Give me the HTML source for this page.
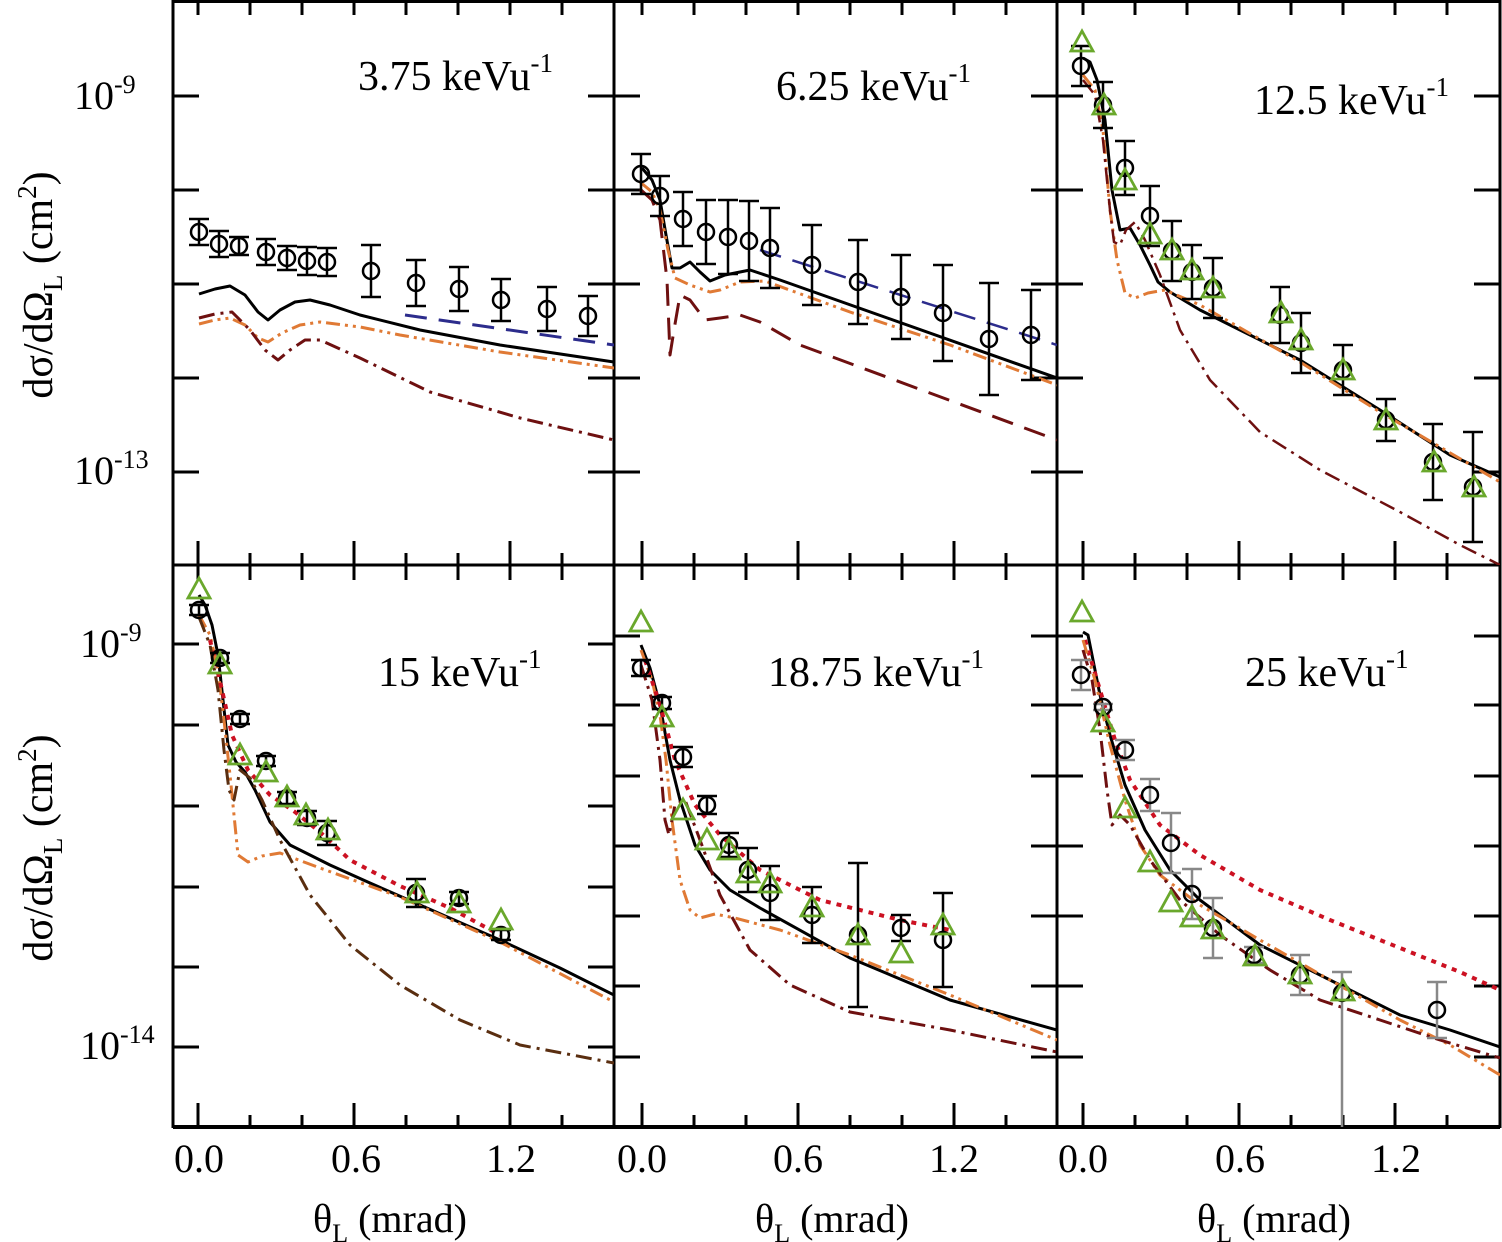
<!DOCTYPE html>
<html><head><meta charset="utf-8"><style>
html,body{margin:0;padding:0;background:#fff;}
svg{display:block;}
text{font-family:"Liberation Serif",serif;fill:#000;}
</style></head><body>
<svg id="s" width="1502" height="1242" viewBox="0 0 1502 1242" xmlns="http://www.w3.org/2000/svg">
<g id="g"></g>
<text x="74" y="109" font-size="40">10<tspan dy="-16" font-size="26">-9</tspan></text>
<text x="74" y="484" font-size="40">10<tspan dy="-16" font-size="26">-13</tspan></text>
<text x="80" y="657" font-size="40">10<tspan dy="-16" font-size="26">-9</tspan></text>
<text x="80" y="1059" font-size="40">10<tspan dy="-16" font-size="26">-14</tspan></text>
<text transform="translate(52,285) rotate(-90)" text-anchor="middle" font-size="42">dσ/dΩ<tspan dy="10" font-size="27">L</tspan><tspan dy="-10">  (cm</tspan><tspan dy="-16" font-size="27">2</tspan><tspan dy="16">)</tspan></text>
<text transform="translate(52,848) rotate(-90)" text-anchor="middle" font-size="42">dσ/dΩ<tspan dy="10" font-size="27">L</tspan><tspan dy="-10">  (cm</tspan><tspan dy="-16" font-size="27">2</tspan><tspan dy="16">)</tspan></text>
<g font-size="42">
<text x="358" y="90">3.75 keVu<tspan dy="-18" font-size="27">-1</tspan></text>
<text x="776" y="100">6.25 keVu<tspan dy="-18" font-size="27">-1</tspan></text>
<text x="1254" y="114">12.5 keVu<tspan dy="-18" font-size="27">-1</tspan></text>
<text x="378" y="686">15 keVu<tspan dy="-18" font-size="27">-1</tspan></text>
<text x="768" y="686">18.75 keVu<tspan dy="-18" font-size="27">-1</tspan></text>
<text x="1245" y="686">25 keVu<tspan dy="-18" font-size="27">-1</tspan></text>
</g>
<g font-size="40" text-anchor="middle">
<text x="199" y="1172">0.0</text><text x="356" y="1172">0.6</text><text x="511" y="1172">1.2</text>
<text x="642" y="1172">0.0</text><text x="798" y="1172">0.6</text><text x="954" y="1172">1.2</text>
<text x="1083" y="1172">0.0</text><text x="1240" y="1172">0.6</text><text x="1396" y="1172">1.2</text>
</g>
<g font-size="40" text-anchor="middle">
<text x="390" y="1232">θ<tspan dy="10" font-size="26">L</tspan><tspan dy="-10"> (mrad)</tspan></text>
<text x="832" y="1232">θ<tspan dy="10" font-size="26">L</tspan><tspan dy="-10"> (mrad)</tspan></text>
<text x="1274" y="1232">θ<tspan dy="10" font-size="26">L</tspan><tspan dy="-10"> (mrad)</tspan></text>
</g>
</svg>
<script>
(function(){
var g=document.getElementById('g'),NS='http://www.w3.org/2000/svg';
function el(t,a){var e=document.createElementNS(NS,t);for(var k in a)e.setAttribute(k,a[k]);g.appendChild(e);return e;}
function L(x1,y1,x2,y2,c,w){el('line',{x1:x1,y1:y1,x2:x2,y2:y2,stroke:c||'#000','stroke-width':w||3});}
function P(pts,c,w,d,clip){var s=pts.map(function(p){return p[0]+','+p[1]}).join(' ');var a={points:s,fill:'none',stroke:c,'stroke-width':w,'stroke-linejoin':'round','stroke-linecap':'butt'};if(d)a['stroke-dasharray']=d;if(clip)a['clip-path']='url(#'+clip+')';el('polyline',a);}
var defs=el('defs',{});
[['c1',173,0,441,565],['c2',614,0,443,565],['c3',1057,0,443,565],['c4',173,565,441,562],['c5',614,565,443,562],['c6',1057,565,443,562]].forEach(function(c){var cp=document.createElementNS(NS,'clipPath');cp.setAttribute('id',c[0]);var r=document.createElementNS(NS,'rect');r.setAttribute('x',c[1]);r.setAttribute('y',c[2]);r.setAttribute('width',c[3]);r.setAttribute('height',c[4]);cp.appendChild(r);defs.appendChild(cp);});
[173,614,1057,1500].forEach(function(x){L(x,0,x,1128,'#000',3);});
L(173,1.5,1500,1.5);L(173,565,1500,565);L(173,1127,1500,1127,'#000',4);
var cols=[[198,173,614],[642,614,1057],[1083,1057,1500]];
cols.forEach(function(c){for(var k=0;k<9;k++){var x=c[0]+k*52;if(x>=c[2]-2)break;var maj=k%3==0;
 L(x,565,x,565-(maj?24:12));L(x,1127,x,1127-(maj?24:12));
 L(x,0,x,15);L(x,565,x,580);}});
function yt(xl,xr,ys){ys.forEach(function(y){L(xl,y,xl+26,y);L(xr,y,xr-26,y);});}
var topY=[96,190,284,378,472];
yt(173,614,topY);yt(614,1057,topY);yt(1057,1500,topY);
yt(173,614,[644,725,806,887,967,1047]);
yt(614,1057,[636,705,776,846,916,986,1057]);
yt(1057,1500,[636,705,776,846,916,986,1057]);
var K='#000',OR='#e07a35',DR='#6e1010',BL='#2c2c8c',RD='#cc1122',GR='#6aa82c',BR='#5a2e10';
var DD='14,5,3,5,3,5',DA='16,6,3,6',DS='22,12',DT='5,6';
function circ(x,y,e,col){if(e){L(x,y-e,x,y+e,col||'#000',2.5);L(x-10,y-e,x+10,y-e,col||'#000',2.5);L(x-10,y+e,x+10,y+e,col||'#000',2.5);}
 el('circle',{cx:x,cy:y,r:8,fill:'none',stroke:'#000','stroke-width':2.5});}
function tri(x,y){el('polygon',{points:(x-11)+','+(y+9)+' '+(x+11)+','+(y+9)+' '+x+','+(y-11),fill:'none',stroke:GR,'stroke-width':2.8});}
P([[199,294],[215,289],[230,286],[245,295],[258,312],[268,320],[280,310],[295,302],[310,300],[330,305],[360,315],[420,330],[500,345],[614,362]],K,3,null,'c1');
P([[405,315],[614,345]],BL,3,DS,'c1');
P([[199,324],[215,320],[230,318],[245,325],[258,338],[268,342],[282,333],[300,325],[320,322],[360,327],[400,335],[500,352],[614,368]],OR,3,DD,'c1');
P([[199,318],[215,314],[232,312],[250,330],[265,350],[278,360],[290,350],[305,340],[320,340],[360,358],[430,392],[520,418],[614,440]],DR,3,DA,'c1');
[[199,232,13],[219,244,13],[239,246,9],[266,252,13],[287,258,12],[307,261,14],[327,262,14],[371,271,26],[416,283,23],[459,289,22],[501,300,21],[547,309,22],[588,316,20]].forEach(function(p){circ(p[0],p[1],p[2]);});
P([[642,168],[652,180],[660,200],[666,235],[672,268],[680,268],[690,262],[700,272],[710,281],[725,275],[750,270],[780,280],[1057,378]],K,3,null,'c2');
P([[760,250],[1057,345]],BL,2.5,DS,'c2');
P([[640,182],[652,192],[660,210],[668,250],[675,278],[690,285],[710,292],[720,290],[740,282],[765,281],[850,312],[950,345],[1057,385]],OR,3,DD,'c2');
P([[640,189],[652,200],[660,220],[667,280],[670,355],[674,330],[680,295],[690,300],[705,320],[720,318],[740,315],[760,322],[800,345],[1057,440]],DR,3,DS,'c2');
[[641,174,20],[660,196,20],[683,219,27],[706,232,32],[728,237,37],[749,241,40],[770,248,40],[812,265,40],[858,282,42],[901,297,42],[943,313,48],[989,339,56],[1031,335,45]].forEach(function(p){circ(p[0],p[1],p[2]);});
P([[1083,58],[1090,62],[1097,80],[1105,120],[1112,190],[1120,230],[1130,228],[1140,245],[1150,265],[1158,282],[1170,292],[1200,310],[1240,330],[1300,360],[1380,410],[1450,455],[1500,477]],K,3,null,'c3');
P([[1083,75],[1095,90],[1103,130],[1110,210],[1117,260],[1125,293],[1135,298],[1148,293],[1165,290],[1200,305],[1300,362],[1380,412],[1500,482]],OR,3,DD,'c3');
P([[1083,80],[1095,95],[1103,140],[1110,210],[1114,242],[1120,245],[1126,230],[1135,222],[1145,240],[1160,275],[1180,330],[1210,380],[1260,432],[1320,470],[1400,512],[1460,545],[1500,565]],DR,2.5,DA,'c3');
[[1081,66,20],[1103,105,23],[1125,168,27],[1150,216,30],[1172,251,30],[1192,272,27],[1213,288,30],[1280,315,28],[1301,343,30],[1343,370,25],[1386,420,21],[1433,462,38],[1473,487,55]].forEach(function(p){circ(p[0],p[1],p[2]);});
[[1082,42],[1104,105],[1125,180],[1150,234],[1172,250],[1192,270],[1213,288],[1281,313],[1301,340],[1343,370],[1386,420],[1434,462],[1474,487]].forEach(function(p){tri(p[0],p[1]);});
P([[199,595],[205,605],[212,625],[218,655],[223,700],[228,745],[236,762],[245,772],[255,790],[270,822],[290,845],[330,865],[370,883],[420,905],[500,940],[560,968],[614,995]],K,3,null,'c4');
P([[199,615],[210,635],[218,670],[224,720],[230,775],[234,815],[238,855],[248,862],[262,856],[280,853],[320,868],[400,897],[500,942],[614,1002]],OR,3,DD,'c4');
P([[210,640],[222,690],[232,735],[248,770],[270,795],[295,812],[320,832],[350,860],[400,886],[450,908],[500,935]],RD,4,DT,'c4');
P([[199,617],[210,645],[218,690],[224,750],[229,790],[234,800],[240,770],[250,778],[262,800],[280,840],[310,895],[350,945],[400,985],[460,1020],[520,1045],[614,1063]],BR,3,DA,'c4');
[[199,610,5],[220,658,5],[240,719,5],[266,761,5],[287,798,6],[307,818,7],[327,833,12],[416,893,14],[459,898,6],[501,935,5]].forEach(function(p){circ(p[0],p[1],p[2]);});
[[199,589],[220,664],[240,755],[266,772],[287,797],[306,815],[328,830],[417,893],[459,903],[501,920]].forEach(function(p){tri(p[0],p[1]);});
P([[641,645],[650,668],[660,705],[670,760],[680,800],[695,845],[710,870],[730,890],[760,908],[850,958],[950,1000],[1057,1030]],K,3,null,'c5');
P([[641,650],[652,680],[660,715],[666,760],[672,820],[680,880],[690,910],[700,918],[715,914],[735,918],[780,930],[850,955],[950,995],[1057,1040]],OR,3,DD,'c5');
P([[645,660],[660,705],[675,760],[695,805],[720,835],[760,870],[820,900],[900,920],[950,930]],RD,4,DT,'c5');
P([[641,665],[652,700],[660,760],[665,820],[669,835],[675,805],[685,800],[700,840],[720,895],[750,950],[790,985],[850,1012],[950,1030],[1057,1052]],DR,3,DA,'c5');
[[641,668,8],[662,703,6],[683,757,10],[707,805,9],[729,845,12],[748,870,22],[770,893,27],[812,915,28],[858,935,72],[901,928,13],[943,940,47]].forEach(function(p){circ(p[0],p[1],p[2]);});
[[641,622],[662,717],[683,810],[707,840],[729,850],[748,873],[770,883],[812,907],[858,935],[901,953],[943,925]].forEach(function(p){tri(p[0],p[1]);});
P([[1083,632],[1088,635],[1093,660],[1100,695],[1110,735],[1125,785],[1145,830],[1170,870],[1200,900],[1260,945],[1330,980],[1400,1015],[1450,1030],[1500,1047]],K,3,null,'c6');
P([[1085,640],[1100,690],[1115,740],[1130,780],[1160,825],[1200,855],[1260,890],[1330,920],[1400,948],[1460,972],[1500,990]],RD,4,DT,'c6');
P([[1083,640],[1095,680],[1110,745],[1125,800],[1140,845],[1160,875],[1200,905],[1260,940],[1330,980],[1400,1020],[1450,1045],[1500,1075]],OR,3,DD,'c6');
P([[1083,650],[1092,680],[1100,730],[1107,790],[1112,825],[1120,815],[1130,825],[1150,860],[1180,900],[1220,935],[1270,970],[1320,1000],[1380,1020],[1440,1040],[1500,1058]],DR,3,DA,'c6');
var GY='#888';
L(1342,972,1342,1127,GY,2.5);L(1332,972,1352,972,GY,2.5);
[[1081,675,15],[1103,707,3],[1125,750,10],[1150,795,16],[1171,843,30],[1192,894,25],[1213,928,30],[1254,955,8],[1300,975,20],[1342,993,0],[1437,1010,28]].forEach(function(p){circ(p[0],p[1],p[2],GY);});
[[1082,612],[1103,722],[1125,808],[1150,862],[1171,902],[1192,917],[1213,929],[1255,956],[1300,974],[1343,991]].forEach(function(p){tri(p[0],p[1]);});
})();
</script>
</body></html>
